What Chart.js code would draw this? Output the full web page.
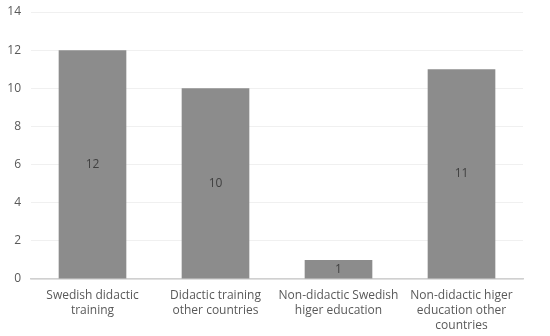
<!DOCTYPE html>
<html><head><meta charset="utf-8">
<script src="https://cdn.jsdelivr.net/npm/chart.js@4"></script>
<style>html,body{margin:0;padding:0;background:#fff}#wrap{width:550px;height:336px}</style>
</head><body><div id="wrap"><canvas id="c"></canvas></div>
<script>
const categories = [
  ["Swedish didactic","training"],
  ["Didactic training","other countries"],
  ["Non-didactic Swedish","higer education"],
  ["Non-didactic higer","education other","countries"]
];
const values = [12, 10, 1, 11];
const yTicks = [0, 2, 4, 6, 8, 10, 12, 14];

const labelPlugin = {
  id: 'barLabels',
  afterDatasetsDraw(chart) {
    const ctx = chart.ctx;
    const meta = chart.getDatasetMeta(0);
    ctx.save();
    ctx.fillStyle = '#404040';
    ctx.font = '12px "Open Sans", sans-serif';
    ctx.textAlign = 'center';
    ctx.textBaseline = 'middle';
    meta.data.forEach((bar, i) => {
      const y = (bar.y + bar.base) / 2;
      ctx.fillText(String(values[i]), bar.x, y);
    });
    ctx.restore();
  }
};

new Chart(document.getElementById('c'), {
  type: 'bar',
  data: {
    labels: categories,
    datasets: [{
      data: values,
      backgroundColor: '#8c8c8c',
      categoryPercentage: 1,
      barPercentage: 0.55
    }]
  },
  options: {
    responsive: true,
    maintainAspectRatio: false,
    animation: false,
    layout: { padding: { left: 0, right: 27, top: 12, bottom: 0 } },
    plugins: { legend: { display: false }, tooltip: { enabled: false } },
    scales: {
      x: {
        afterFit(axis) { axis.height = 57; axis.paddingLeft = 0; axis.paddingRight = 0; },
        grid: { display: false, drawTicks: false },
        border: { display: true, color: '#d0d0d0', width: 1.5 },
        ticks: {
          color: '#595959',
          font: { family: '"Open Sans", sans-serif', size: 12, lineHeight: 1.25 },
          maxRotation: 0, autoSkip: false, padding: 9
        }
      },
      y: {
        min: 0, max: 14,
        afterFit(axis) { axis.width = 31; axis.paddingTop = 0; axis.paddingBottom = 0; },
        afterBuildTicks(axis) { axis.ticks = yTicks.map(v => ({ value: v })); },
        grid: { color: '#f0f0f0', drawTicks: false },
        border: { display: false },
        ticks: {
          color: '#595959',
          font: { family: '"Open Sans", sans-serif', size: 12 },
          padding: 10
        }
      }
    }
  },
  plugins: [labelPlugin]
});
</script></body></html>
